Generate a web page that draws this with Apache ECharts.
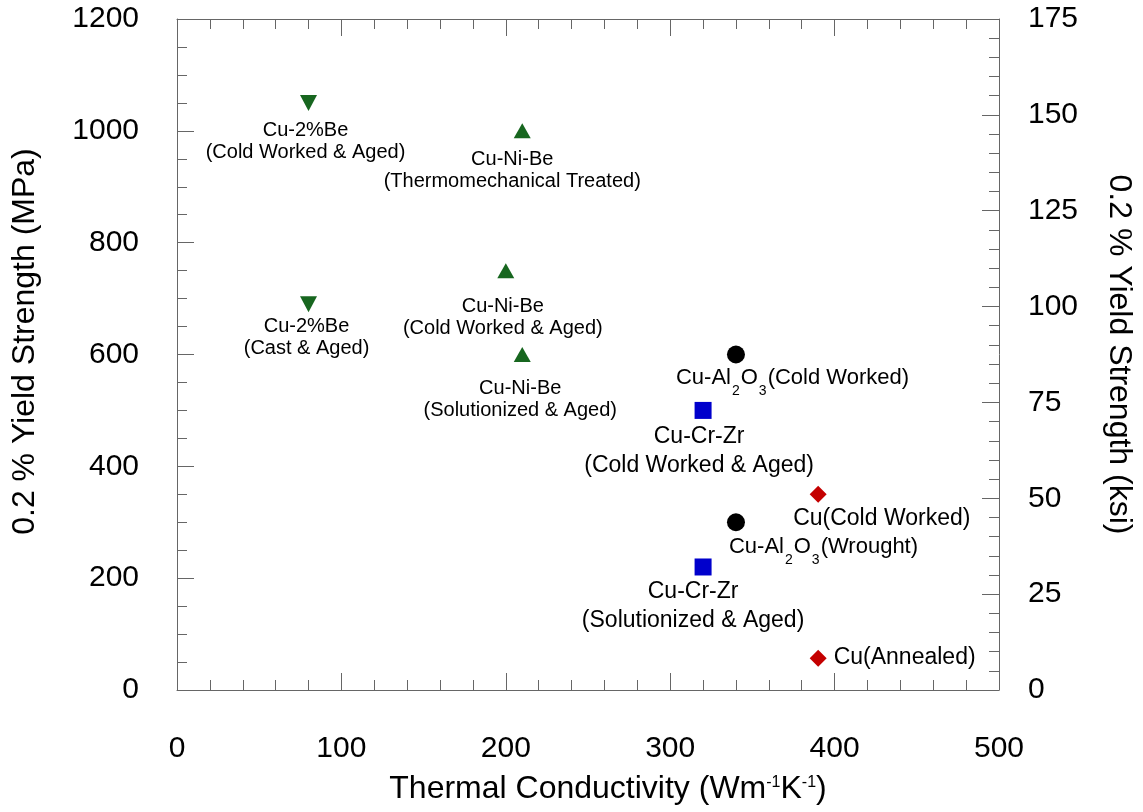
<!DOCTYPE html>
<html><head><meta charset="utf-8">
<script src="https://cdn.jsdelivr.net/npm/echarts@6/dist/echarts.min.js"></script>
<style>html,body{margin:0;padding:0;background:#fff}#c{width:1143px;height:812px}</style>
</head><body><div id="c"></div>
<script>
// ---- data ----
const beNames = ['Cu-2%Be\n(Cold Worked & Aged)', 'Cu-2%Be\n(Cast & Aged)'];
const beConductivity = [80, 80];
const beYield = [1050, 690];

const niBeNames = ['Cu-Ni-Be\n(Thermomechanical Treated)', 'Cu-Ni-Be\n(Cold Worked & Aged)', 'Cu-Ni-Be\n(Solutionized & Aged)'];
const niBeConductivity = [210, 200, 210];
const niBeYield = [1000, 750, 600];

const alNames = ['Cold Worked', 'Wrought'];
const alConductivity = [340, 340];
const alYield = [600, 300];

const crZrNames = ['Cu-Cr-Zr\n(Cold Worked & Aged)', 'Cu-Cr-Zr\n(Solutionized & Aged)'];
const crZrConductivity = [320, 320];
const crZrYield = [500, 220];

const cuNames = ['Cu(Cold Worked)', 'Cu(Annealed)'];
const cuConductivity = [390, 390];
const cuYield = [350, 57];

const xRange = [0, 500, 100];      // min, max, interval (W/mK)
const mpaRange = [0, 1200, 200];   // MPa
const ksiRange = [0, 175, 25];     // ksi

// ---- styling / layout ----
const FONT = '"Liberation Sans", Arial, Helvetica, sans-serif';
const AX = '#666';
const GREEN = '#17661f', BLUE = '#0000cc', RED = '#c40000';

function pts(xs, ys, names, labels) {
  return xs.map((x, i) => ({ value: [x, ys[i]], name: names[i], label: labels[i] }));
}
const beLabels = [
  { offset: [-3, 9] }, { offset: [-2, 3] }
];
const niBeLabels = [
  { offset: [-10, 10] }, { offset: [-3, 17] }, { offset: [-2, 15] }
];
const alLabels = [
  { align: 'left', offset: [-60, 3] }, { align: 'left', offset: [-7, 4] }
];
const crZrLabels = [
  { offset: [-4, 3] }, { offset: [-10, 2] }
];
const cuLabels = [
  { align: 'left', offset: [-25, 4] }, { position: 'right', distance: 7, offset: [0, 0] }
];

const smallLabel = { show: true, position: 'bottom', distance: 0, color: '#000', fontFamily: FONT, fontSize: 20, lineHeight: 22, formatter: p => p.name };
const bigLabel = { show: true, position: 'bottom', distance: 0, color: '#000', fontFamily: FONT, fontSize: 23, lineHeight: 29, formatter: p => p.name };

function valueAxis(extra) {
  return Object.assign({
    type: 'value',
    axisLine: { show: true, onZero: false, lineStyle: { color: AX, width: 1 } },
    axisTick: { show: true, inside: true, length: 17, lineStyle: { color: AX, width: 1 } },
    splitLine: { show: false },
    minorSplitLine: { show: false },
    axisLabel: { color: '#000', fontFamily: FONT, fontSize: 30 }
  }, extra);
}
const plainNum = v => String(v);

const option = {
  animation: false,
  backgroundColor: '#fff',
  grid: { left: 177, right: 142, top: 19, bottom: 122, containLabel: false },
  xAxis: [
    valueAxis({
      position: 'bottom', min: xRange[0], max: xRange[1], interval: xRange[2],
      minorTick: { show: true, splitNumber: 5, length: 10, lineStyle: { color: AX } },
      axisLabel: { color: '#000', fontFamily: FONT, fontSize: 30, margin: 44, lineHeight: 30, formatter: plainNum },
      name: '{t|Thermal Conductivity (Wm}{p|-1}{t|K}{p|-1}{t|)}',
      nameLocation: 'middle', nameGap: 83,
      nameTextStyle: {
        padding: [0, 0, 0, 40],
        rich: {
          t: { fontFamily: FONT, fontSize: 32, lineHeight: 32, color: '#000' },
          p: { fontFamily: FONT, fontSize: 16, lineHeight: 16, color: '#000', padding: [0, 0, 13, 0] }
        }
      }
    }),
    valueAxis({
      position: 'top', min: xRange[0], max: xRange[1], interval: xRange[2],
      minorTick: { show: true, splitNumber: 5, length: 10, lineStyle: { color: AX } },
      axisLabel: { show: false }
    })
  ],
  yAxis: [
    valueAxis({
      position: 'left', min: mpaRange[0], max: mpaRange[1], interval: mpaRange[2],
      minorTick: { show: true, splitNumber: 4, length: 10, lineStyle: { color: AX } },
      axisLabel: { color: '#000', fontFamily: FONT, fontSize: 30, margin: 38, padding: [6, 0, 0, 0], formatter: plainNum },
      name: '0.2 % Yield Strength (MPa)', nameLocation: 'middle', nameGap: 136,
      nameTextStyle: { color: '#000', fontFamily: FONT, fontSize: 32, lineHeight: 32, padding: [0, 0, 0, 26] }
    }),
    valueAxis({
      position: 'right', min: ksiRange[0], max: ksiRange[1], interval: ksiRange[2],
      minorTick: { show: true, splitNumber: 5, length: 10, lineStyle: { color: AX } },
      axisLabel: { color: '#000', fontFamily: FONT, fontSize: 30, margin: 29, padding: [6, 0, 0, 0], formatter: plainNum },
      name: '0.2 % Yield Strength (ksi)', nameLocation: 'middle', nameGap: 104, nameRotate: -90,
      nameTextStyle: { color: '#000', fontFamily: FONT, fontSize: 32, lineHeight: 32 }
    })
  ],
  series: [
    {
      type: 'scatter', name: 'Cu-2%Be', silent: true,
      symbol: 'path://M0,0L10,0L5,9.4Z', symbolSize: [17, 16],
      itemStyle: { color: GREEN, opacity: 1 },
      label: smallLabel,
      data: pts(beConductivity, beYield, beNames, beLabels)
    },
    {
      type: 'scatter', name: 'Cu-Ni-Be', silent: true,
      symbol: 'triangle', symbolSize: [17, 15],
      itemStyle: { color: GREEN, opacity: 1 },
      label: smallLabel,
      data: pts(niBeConductivity, niBeYield, niBeNames, niBeLabels)
    },
    {
      type: 'scatter', name: 'Cu-Al2O3', silent: true,
      symbol: 'circle', symbolSize: 18,
      itemStyle: { color: '#000', opacity: 1 },
      label: {
        show: true, position: 'bottom', distance: 0,
        formatter: p => '{m|Cu-Al}{s|2}{m|O}{s|3}{m|(' + p.name + ')}',
        rich: {
          m: { fontFamily: FONT, fontSize: 22, lineHeight: 23, color: '#000', verticalAlign: 'middle' },
          s: { fontFamily: FONT, fontSize: 14, lineHeight: 14, color: '#000', verticalAlign: 'middle', padding: [27, 1, 0, 1] }
        }
      },
      data: pts(alConductivity, alYield, alNames, alLabels)
    },
    {
      type: 'scatter', name: 'Cu-Cr-Zr', silent: true,
      symbol: 'rect', symbolSize: 17,
      itemStyle: { color: BLUE, opacity: 1 },
      label: bigLabel,
      data: pts(crZrConductivity, crZrYield, crZrNames, crZrLabels)
    },
    {
      type: 'scatter', name: 'Cu', silent: true,
      symbol: 'diamond', symbolSize: 17,
      itemStyle: { color: RED, opacity: 1 },
      label: Object.assign({}, bigLabel, { lineHeight: 23 }),
      data: pts(cuConductivity, cuYield, cuNames, cuLabels)
    }
  ]
};

const chart = echarts.init(document.getElementById('c'), null, { renderer: 'canvas' });
chart.setOption(option);
</script>
</body></html>
